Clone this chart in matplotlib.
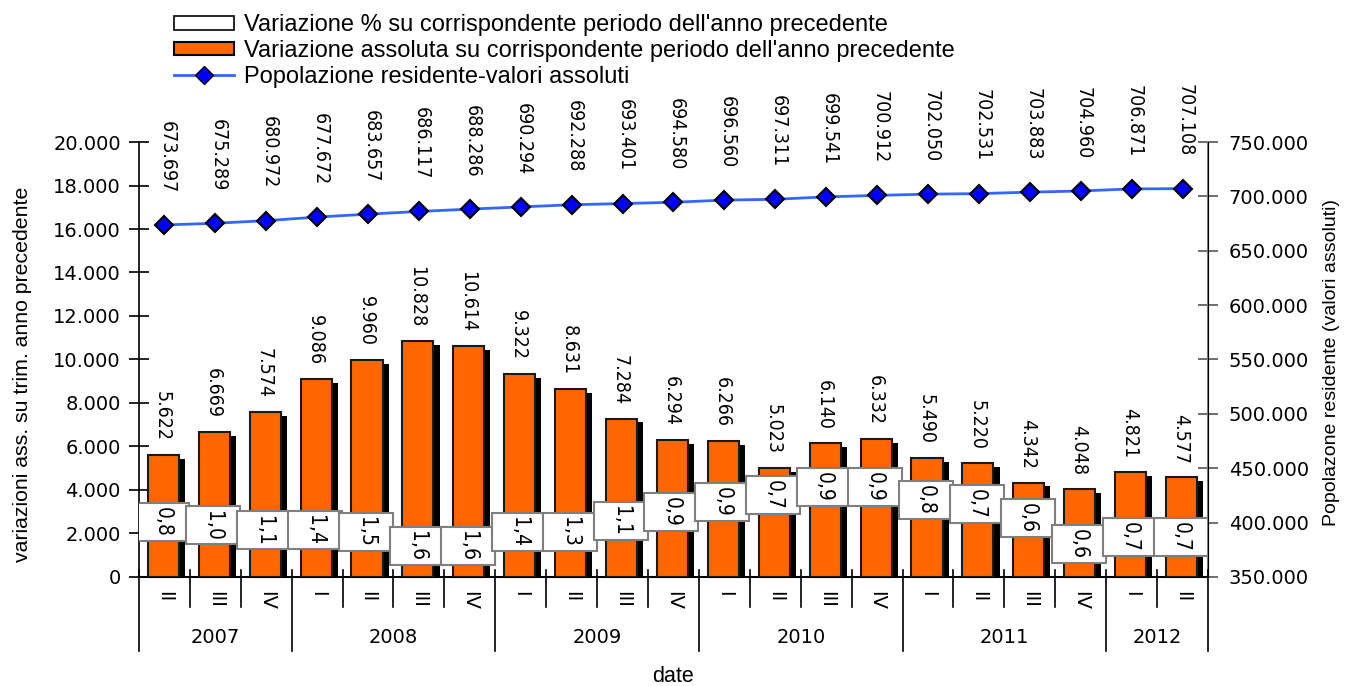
import matplotlib
matplotlib.use("Agg")
import matplotlib.pyplot as plt
from matplotlib.patches import Rectangle, Patch
from matplotlib.lines import Line2D
import matplotlib.transforms as mtransforms

plt.rcParams["font.family"] = ["DejaVu Sans"]
NARROW = ["Liberation Sans Narrow", "Liberation Sans", "DejaVu Sans"]

# data
years = ["2007", "2008", "2009", "2010", "2011", "2012"]
quarters = ["II", "III", "IV",
            "I", "II", "III", "IV",
            "I", "II", "III", "IV",
            "I", "II", "III", "IV",
            "I", "II", "III", "IV",
            "I", "II"]
year_span = [3, 4, 4, 4, 4, 2]
abs_var = [5622, 6669, 7574, 9086, 9960, 10828, 10614, 9322, 8631, 7284, 6294,
           6266, 5023, 6140, 6332, 5490, 5220, 4342, 4048, 4821, 4577]
pct_var = ["0,8", "1,0", "1,1", "1,4", "1,5", "1,6", "1,6", "1,4", "1,3", "1,1", "0,9",
           "0,9", "0,7", "0,9", "0,9", "0,8", "0,7", "0,6", "0,6", "0,7", "0,7"]
# height of the % label boxes (left-axis units)
pct_label_y = [2550, 2370, 2140, 2140, 2050, 1420, 1420, 2050, 2050, 2580, 2990,
               3450, 3770, 4140, 4140, 3520, 3360, 2710, 1520, 1840, 1840]
pop = [673697, 675289, 677672, 680972, 683657, 686117, 688286, 690294, 692288, 693401, 694580,
       696560, 697311, 699541, 700912, 702050, 702531, 703883, 704960, 706871, 707108]
pop_labels = ["673.697", "675.289", "680.972", "677.672", "683.657", "686.117", "688.286",
              "690.294", "692.288", "693.401", "694.580", "696.560", "697.311", "699.541",
              "700.912", "702.050", "702.531", "703.883", "704.960", "706.871", "707.108"]

def fmt(v):
    return f"{v:,.0f}".replace(",", ".")

LBL = dict(fontsize=14, fontstretch="condensed")

fig = plt.figure(figsize=(13.49, 6.86), dpi=100)
ax = fig.add_axes([0.1030, 0.1589, 0.7925, 0.6341])
ax2 = ax.twinx()

n = len(abs_var)
x = list(range(n))
orange = "#FF6600"

# shadow + bars
ax.bar([i + 0.1 for i in x], [v - 180 for v in abs_var], width=0.61, color="black", zorder=2)
ax.bar([i - 0.02 for i in x], abs_var, width=0.61, color=orange, edgecolor="#1a1a1a",
       linewidth=1.5, zorder=3)
for i, v in enumerate(abs_var):
    ax.annotate(fmt(v), (i - 0.04, v), xytext=(0, 10), textcoords="offset points",
                rotation=-90, ha="center", va="bottom", zorder=6, **LBL)

# % boxes
box_h = 1750
for i, (lab, yc) in enumerate(zip(pct_var, pct_label_y)):
    ax.add_patch(Rectangle((i - 0.57, yc - box_h / 2), 1.06, box_h, facecolor="white",
                           edgecolor="#7f7f7f", linewidth=1.5, zorder=7))
    ax.text(i - 0.04, yc, lab, rotation=-90, ha="center", va="center", zorder=8,
            fontsize=15, fontstretch="condensed")

ax.set_xlim(-0.5, n - 0.5)
ax.set_ylim(0, 20000)
ax.set_yticks(range(0, 20001, 2000))
ax.set_yticklabels([fmt(v) for v in range(0, 20001, 2000)], fontsize=14)
ax.tick_params(axis="y", direction="inout", length=14, width=1.2, pad=6)
ax.set_xticks([])

# population line
ax2.plot(x, pop, color="#3366FF", linewidth=2, marker="D", markersize=9,
         markerfacecolor="#0000FF", markeredgecolor="black", markeredgewidth=1.5, zorder=5)
for i, (v, lab) in enumerate(zip(pop, pop_labels)):
    ax2.annotate(lab, (i, v), xytext=(2, 23), textcoords="offset points",
                 rotation=-90, ha="center", va="bottom", **LBL)
ax2.set_ylim(350000, 750000)
ax2.set_yticks(range(350000, 750001, 50000))
ax2.set_yticklabels([fmt(v) for v in range(350000, 750001, 50000)], fontsize=14)
ax2.tick_params(axis="y", direction="inout", length=14, width=1.2, pad=8, color="#555555")
ax.set_zorder(ax2.get_zorder() + 1)
ax.patch.set_visible(False)

for a in (ax, ax2):
    a.spines["top"].set_visible(False)
ax2.spines["right"].set_color("#7f7f7f")
ax2.spines["right"].set_linewidth(1.5)
ax.spines["left"].set_linewidth(1.2)
ax.spines["bottom"].set_linewidth(1.5)
ax2.spines["left"].set_visible(False)
ax2.spines["bottom"].set_visible(False)

ax.set_ylabel("variazioni ass. su trim. anno precedente", family=NARROW, fontsize=15.3)
ax.yaxis.set_label_coords(-0.1, 0.465)
ax2.set_ylabel("Popolazone residente (valori assoluti)", family=NARROW, fontsize=14)
ax2.yaxis.set_label_coords(1.108, 0.494)

# two-level category axis
trans = mtransforms.blended_transform_factory(ax.transData, ax.transAxes)
year_edges = [0]
for s in year_span:
    year_edges.append(year_edges[-1] + s)
for k in range(n + 1):
    bottom = -0.17 if k in year_edges else -0.07
    ax.plot([k - 0.5, k - 0.5], [0.015, bottom], transform=trans, color="black",
            linewidth=1.2, clip_on=False)
for i, q in enumerate(quarters):
    ax.text(i, -0.032, q, transform=trans, rotation=-90, ha="center", va="top", fontsize=14)
for yl, a, b in zip(years, year_edges[:-1], year_edges[1:]):
    ax.text((a + b) / 2 - 0.5, -0.14, yl, transform=trans, ha="center", va="center", fontsize=14)
ax.text(0.5, -0.228, "date", transform=ax.transAxes, ha="center", va="center",
        family=NARROW, fontsize=15.5)

handles = [Patch(facecolor="white", edgecolor="black", linewidth=1.2),
           Patch(facecolor=orange, edgecolor="black", linewidth=1.5),
           Line2D([], [], color="#3366FF", linewidth=2, marker="D", markersize=9,
                  markerfacecolor="#0000FF", markeredgecolor="black")]
labels = ["Variazione % su corrispondente periodo dell'anno precedente",
          "Variazione assoluta su corrispondente periodo dell'anno precedente",
          "Popolazione residente-valori assoluti"]
fig.legend(handles, labels, loc="upper left", bbox_to_anchor=(0.122, 0.993), frameon=False,
           prop={"family": NARROW, "size": 17}, handlelength=2.55, handleheight=0.5,
           handletextpad=0.42, labelspacing=0.16, borderaxespad=0)

fig.savefig("out.png", dpi=100)
